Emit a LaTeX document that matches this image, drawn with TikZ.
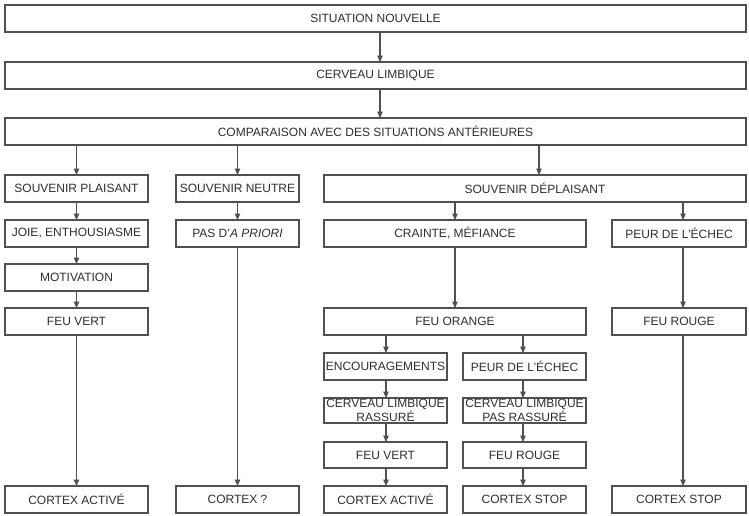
\documentclass[tikz,border=0pt]{standalone}
\usepackage{fontspec}
\setmainfont{Liberation Sans}
\usetikzlibrary{arrows.meta}
\definecolor{linec}{HTML}{505050}
\definecolor{textc}{HTML}{2E2E2E}
\newcommand\mkbox[6]{%
  \node[box, minimum width={(#3-#2)*1pt}, minimum height={(#5-#4)*1pt}]
    (#1) at ({(#2+#3)/2},{(#4+#5)/2}) {#6};}
\begin{document}
\begin{tikzpicture}[x=1pt,y=-1pt,
  box/.style={draw=linec, line width=1.1pt, fill=white, inner sep=0pt, outer sep=0pt,
    align=center, text=textc, font=\fontsize{12}{14}\selectfont},
  arr/.style={draw=linec, line width=1.1pt, -{Triangle[width=5.5pt,length=6.5pt]}}]
\useasboundingbox (0,0) rectangle (749,515);
\mkbox{sit}{5}{746}{5}{32}{SITUATION NOUVELLE}
\mkbox{cer}{5}{746}{62}{89}{CERVEAU LIMBIQUE}
\mkbox{comp}{5}{746}{118}{145}{COMPARAISON AVEC DES SITUATIONS ANTÉRIEURES}
\mkbox{sp}{5}{148}{175}{202}{SOUVENIR PLAISANT}
\mkbox{sn}{176}{299}{175}{202}{SOUVENIR NEUTRE}
\mkbox{sd}{324}{746}{175}{202}{SOUVENIR DÉPLAISANT}
\mkbox{joie}{5}{148}{220}{247}{JOIE, ENTHOUSIASME}
\mkbox{pas}{176}{299}{220}{247}{PAS D'\textit{A PRIORI}}
\mkbox{cm}{324}{586}{220}{247}{CRAINTE, MÉFIANCE}
\mkbox{pea}{612}{746}{220}{247}{PEUR DE L'ÉCHEC}
\mkbox{mot}{5}{148}{264}{291}{MOTIVATION}
\mkbox{fva}{5}{148}{308}{335}{FEU VERT}
\mkbox{fo}{324}{586}{308}{335}{FEU ORANGE}
\mkbox{fra}{612}{746}{308}{335}{FEU ROUGE}
\mkbox{enc}{324}{447}{353}{380}{ENCOURAGEMENTS}
\mkbox{peb}{463}{586}{353}{380}{PEUR DE L'ÉCHEC}
\mkbox{clr}{324}{447}{398}{423}{CERVEAU LIMBIQUE\\RASSURÉ}
\mkbox{clp}{463}{586}{398}{423}{CERVEAU LIMBIQUE\\PAS RASSURÉ}
\mkbox{fvb}{324}{447}{442}{468}{FEU VERT}
\mkbox{frb}{463}{586}{442}{468}{FEU ROUGE}
\mkbox{caa}{5}{148}{486}{513}{CORTEX ACTIVÉ}
\mkbox{cq}{176}{299}{486}{513}{CORTEX ?}
\mkbox{cab}{324}{447}{486}{513}{CORTEX ACTIVÉ}
\mkbox{csa}{463}{586}{486}{513}{CORTEX STOP}
\mkbox{csb}{612}{746}{486}{513}{CORTEX STOP}
\coordinate (xm) at (380,0);
\coordinate (xd) at (539,0);
\coordinate (xp) at (683,0);
\coordinate (xe) at (386,0);
\coordinate (xf) at (523,0);
\draw[arr] (sit.south -| xm) -- (cer.north -| xm);
\draw[arr] (cer.south -| xm) -- (comp.north -| xm);
\draw[arr] (comp.south -| sp.north) -- (sp.north);
\draw[arr] (comp.south -| sn.north) -- (sn.north);
\draw[arr] (comp.south -| xd) -- (sd.north -| xd);
\draw[arr] (sp) -- (joie);
\draw[arr] (joie) -- (mot);
\draw[arr] (mot) -- (fva);
\draw[arr] (fva) -- (caa);
\draw[arr] (sn) -- (pas);
\draw[arr] (pas) -- (cq);
\draw[arr] (sd.south -| cm.north) -- (cm.north);
\draw[arr] (sd.south -| xp) -- (pea.north -| xp);
\draw[arr] (cm) -- (fo);
\draw[arr] (pea.south -| xp) -- (fra.north -| xp);
\draw[arr] (fra.south -| xp) -- (csb.north -| xp);
\draw[arr] (fo.south -| xe) -- (enc.north -| xe);
\draw[arr] (fo.south -| xf) -- (peb.north -| xf);
\draw[arr] (enc.south -| xe) -- (clr.north -| xe);
\draw[arr] (clr.south -| xe) -- (fvb.north -| xe);
\draw[arr] (fvb.south -| xe) -- (cab.north -| xe);
\draw[arr] (peb.south -| xf) -- (clp.north -| xf);
\draw[arr] (clp.south -| xf) -- (frb.north -| xf);
\draw[arr] (frb.south -| xf) -- (csa.north -| xf);
\end{tikzpicture}
\end{document}
